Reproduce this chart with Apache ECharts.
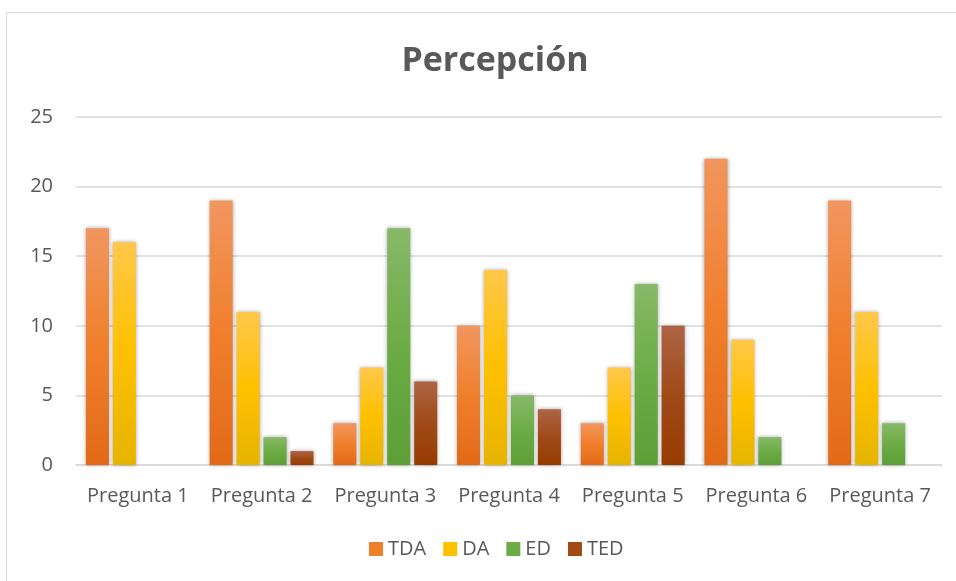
<!DOCTYPE html>
<html><head><meta charset="utf-8">
<script src="https://cdn.jsdelivr.net/npm/echarts@6/dist/echarts.min.js"></script>
<style>html,body{margin:0;padding:0;background:#fff}#c{width:956px;height:581px}</style>
</head><body><div id="c"></div>
<script>
const categories = ['Pregunta 1','Pregunta 2','Pregunta 3','Pregunta 4','Pregunta 5','Pregunta 6','Pregunta 7'];
const TDA = [17,19,3,10,3,22,19];
const DA  = [16,11,7,14,7,9,11];
const ED  = [0,2,17,5,13,2,3];
const TED = [0,1,6,4,10,0,0];
const yTicks = [0,5,10,15,20,25];

const FONT = '"Open Sans", "Noto Sans", sans-serif';
function grad(top, mid, bot){
  return new echarts.graphic.LinearGradient(0,0,0,1,[
    {offset:0,color:top},{offset:0.5,color:mid},{offset:1,color:bot}]);
}
const styles = {
  TDA: grad('#F1965F','#F07F2C','#E26A17'),
  DA:  grad('#FFC84A','#FFC000','#E6B400'),
  ED:  grad('#87B968','#6CAC45','#5E9E37'),
  TED: grad('#AD6444','#A04A18','#973C00')
};
const legendColors = {TDA:'#F07F2C', DA:'#FFC000', ED:'#6CAC45', TED:'#A04A18'};
function mk(name, data){
  return {name, type:'bar', data, barGap:'17%', barCategoryGap:'16%',
    itemStyle:{color:styles[name], shadowBlur:4, shadowColor:'rgba(0,0,0,0.35)', shadowOffsetX:0, shadowOffsetY:0},
    emphasis:{disabled:true}};
}
const chart = echarts.init(document.getElementById('c'), null, {renderer:'canvas'});
chart.setOption({
  animation:false,
  backgroundColor:'#fff',
  graphic:[{type:'rect', shape:{x:6.5,y:12.5,width:960,height:580}, style:{fill:'none', stroke:'#D9D9D9', lineWidth:1}, silent:true}],
  title:{text:'Percepción', left:490, top:39, textAlign:'center',
    textStyle:{fontFamily:FONT, fontSize:34, fontWeight:'bold', color:'#595959'}},
  legend:{bottom:17, left:364, itemWidth:14, itemHeight:14, itemGap:17, icon:'rect',
    textStyle:{fontFamily:FONT, fontSize:20, color:'#595959'},
    data:['TDA','DA','ED','TED'].map(n=>({name:n, itemStyle:{color:legendColors[n]}}))},
  grid:{left:76, right:14, top:117, bottom:116, containLabel:false},
  xAxis:{type:'category', data:categories,
    axisLine:{lineStyle:{color:'#D9D9D9', width:1.5}}, axisTick:{show:false},
    axisLabel:{interval:0, fontFamily:FONT, fontSize:20, color:'#595959', margin:21}},
  yAxis:{type:'value', min:0, max:25, interval:5,
    axisLine:{show:false}, axisTick:{show:false},
    splitLine:{lineStyle:{color:'#D9D9D9', width:1.5}},
    axisLabel:{fontFamily:FONT, fontSize:20, color:'#595959', margin:23,
      formatter:v=> yTicks.includes(v)? String(v):''}},
  series:[mk('TDA',TDA), mk('DA',DA), mk('ED',ED), mk('TED',TED)]
});
</script></body></html>
